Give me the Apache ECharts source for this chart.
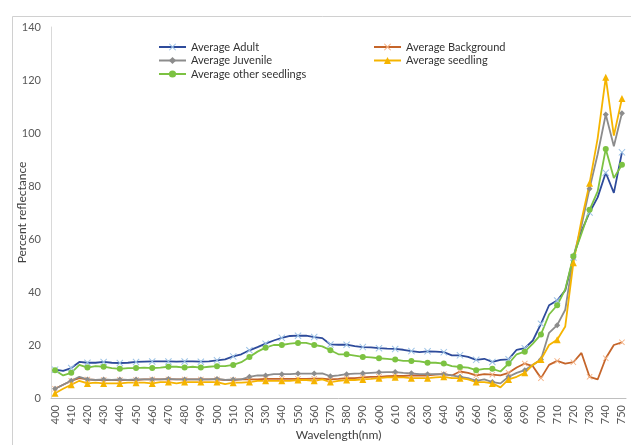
<!DOCTYPE html>
<html>
<head>
<meta charset="utf-8">
<script src="https://cdn.jsdelivr.net/npm/echarts@6/dist/echarts.min.js"></script>
<style>
html,body{margin:0;padding:0;background:#fff;}
#chart{width:631px;height:445px;}
</style>
</head>
<body>
<div id="chart"></div>
<script>
var wavelengths = ['400','405','410','415','420','425','430','435','440','445',
'450','455','460','465','470','475','480','485','490','495',
'500','505','510','515','520','525','530','535','540','545',
'550','555','560','565','570','575','580','585','590','595',
'600','605','610','615','620','625','630','635','640','645',
'650','655','660','665','670','675','680','685','690','695',
'700','705','710','715','720','725','730','735','740','745','750'];

var adult = [10.7,10.2,11.3,13.6,13.3,13.3,13.6,13.3,13.2,13.3,
13.6,13.7,13.8,13.8,13.8,13.7,13.8,13.8,13.7,13.8,
14.2,14.6,15.7,16.5,18,19.2,20.5,21.7,22.7,23.4,
23.5,23.5,23,22.6,20.2,20.1,20.1,19.6,19.2,19.1,
18.8,18.6,18.5,18.2,17.7,17.3,17.6,17.5,17.3,16.1,
16.1,15.5,14.4,14.8,13.6,14.4,14.6,18.2,18.8,21.7,
28,35,36.8,40.6,53,63,70,75.7,85,77.4,92.7];

var background = [3.5,5,6.5,7.5,7,6.8,6.8,6.8,6.8,6.8,
6.8,7,7,7,7,7,7,7,7,7,
7,6.8,6.8,7,7,7,7.2,7.2,7.2,7.2,
7.2,7.2,7.3,7.3,7,7.2,7.5,7.5,7.8,8,
8,8.2,8.3,8.3,8.5,8.5,8.5,8.8,9,8.5,
10,9.5,8.5,9,8.8,8.5,9.5,11.5,13,12,
7.5,12.5,14,13,13.5,17,8,7,15,20,21];

var juvenile = [3.5,5,6.5,8,7,6.8,7,6.8,7,6.8,
7,7,7,7,7.2,7,7,7,7,7,
7.2,6.8,7,7,8,8.5,8.5,9,9,9,
9.2,9.2,9.2,9.3,8.2,8.5,9,9.2,9.3,9.5,
9.7,9.8,9.8,9.5,9.3,9,9,9,9,8.5,
8,7.5,6.5,7,6,5.5,8,9.5,10.5,12.5,
14.5,24.6,27.5,33.3,53,65,79,92,107,95,107.5];

var seedling = [1.8,3.5,5,6.5,5.5,5.8,5.5,5.5,5.5,5.8,
5.8,5.8,5.5,6,6,5.5,6,6,6,6,
6,5.2,5.8,5.8,6,6.5,6.5,6.5,6.5,6.5,
6.8,6.8,6.5,7,6,6.5,6.8,6.8,7,7.2,
7.5,7.8,7.8,7.8,7.5,7.5,7.5,7.8,8,7.5,
7.5,7,6,6,5.5,4,7,8,9.5,12.5,
14.5,20,22,27,51,67,81,98,121,99,113];

var otherSeedlings = [10.5,8.5,9.5,12.5,11.5,12,11.8,11.3,11,11.3,
11.3,11.5,11.3,11.5,11.8,11.8,11.5,11.8,11.5,11.8,
12,12,12.5,13.5,15.5,17.5,19,20,20,20.5,
20.8,20.8,20,19.5,18,16.5,16.5,16,15.5,15.3,
15,14.8,14.5,14,14,13.8,13.3,13.3,13,12,
11.7,11.5,10.5,11,11,10,13,16.5,17.5,20.5,
24,31.5,35,41,53.5,62,71,78,94,83,88];

var yTicks = {min: 0, max: 140, interval: 20};

var xMark = 'path://M0,1L1,0L5,4L9,0L10,1L6,5L10,9L9,10L5,6L1,10L0,9L4,5Z';
var font = 'Lato, "Open Sans", sans-serif';

function mk(name, data, lineColor, markColor, symbol, size) {
  return {
    name: name, type: 'line', data: data,
    symbol: symbol, symbolSize: size, showSymbol: true,
    lineStyle: {color: lineColor, width: 1.8},
    itemStyle: {color: markColor},
    emphasis: {disabled: true},
    animation: false
  };
}

var legendText = {fontFamily: font, fontSize: 11, color: '#333', lineHeight: 12};

var chart = echarts.init(document.getElementById('chart'), null, {renderer: 'canvas'});
chart.setOption({
  backgroundColor: '#fff',
  animation: false,
  graphic: [{
    type: 'rect', left: 10, top: 14,
    shape: {width: 700, height: 500},
    style: {fill: 'none', stroke: '#d0d0d0', lineWidth: 1},
    z: -1
  }],
  legend: [{
    data: ['Average Adult', 'Average Juvenile', 'Average other seedlings'],
    orient: 'vertical', left: 158, top: 41,
    itemWidth: 27, itemHeight: 9, itemGap: 1.5, padding: 0,
    textStyle: legendText
  }, {
    data: ['Average Background', 'Average seedling'],
    orient: 'vertical', left: 373, top: 41,
    itemWidth: 27, itemHeight: 9, itemGap: 1.5, padding: 0,
    textStyle: legendText
  }],
  grid: {left: 51, right: 5, top: 27, bottom: 47, containLabel: false, outerBoundsMode: 'none'},
  xAxis: {
    type: 'category', data: wavelengths, boundaryGap: true,
    name: 'Wavelength(nm)', nameLocation: 'middle', nameGap: 31, nameMoveOverlap: false,
    nameTextStyle: {fontFamily: font, fontSize: 12, color: '#404040'},
    axisLine: {lineStyle: {color: '#bfbfbf'}},
    axisTick: {show: false},
    axisLabel: {interval: 1, rotate: 90, fontFamily: font, fontSize: 11, color: '#595959', margin: 7},
    splitLine: {show: false}
  },
  yAxis: {
    type: 'value', min: yTicks.min, max: yTicks.max, interval: yTicks.interval,
    name: 'Percent reflectance', nameLocation: 'middle', nameGap: 23, nameMoveOverlap: false,
    nameTextStyle: {fontFamily: font, fontSize: 12, color: '#404040'},
    axisLine: {show: true, lineStyle: {color: '#d9d9d9'}},
    axisTick: {show: false},
    axisLabel: {fontFamily: font, fontSize: 11, color: '#595959', margin: 10},
    splitLine: {show: false}
  },
  series: [
    mk('Average Adult', adult, '#2E4B9B', '#9DC3E6', xMark, 7),
    mk('Average Background', background, '#C5652A', '#F4B183', xMark, 6),
    mk('Average Juvenile', juvenile, '#8C8C8C', '#8C8C8C', 'diamond', 6),
    mk('Average seedling', seedling, '#F5B400', '#F5B400', 'triangle', 7),
    mk('Average other seedlings', otherSeedlings, '#7CC242', '#7CC242', 'circle', 6)
  ]
});
</script>
</body>
</html>
